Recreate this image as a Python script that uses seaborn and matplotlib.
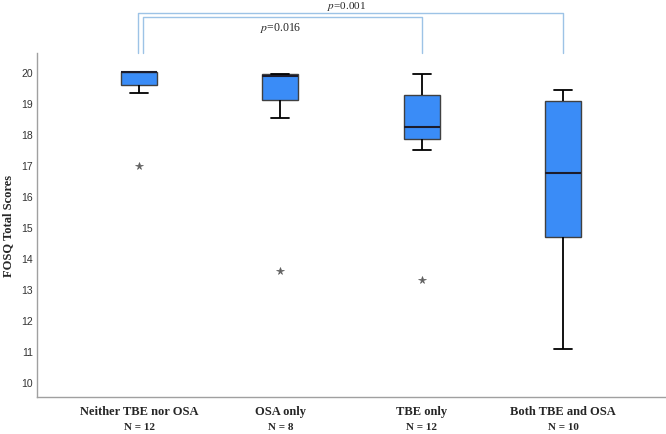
import pandas as pd
import numpy as np
import matplotlib
matplotlib.use("Agg")
import matplotlib.pyplot as plt
import matplotlib.transforms as mtransforms
import seaborn as sns

# --- data ---
groups = ["Neither TBE nor OSA", "OSA only", "TBE only", "Both TBE and OSA"]
n_labels = ["N = 12", "N = 8", "N = 12", "N = 10"]

neither = [16.95, 19.3, 19.5, 19.6, 19.8, 20, 20, 20, 20, 20, 20, 20]
osa_only = [13.55, 18.5, 19.27, 19.8, 19.93, 19.93, 19.93, 19.93]
tbe_only = [13.27, 17.46, 17.6, 17.9, 18.0, 18.1, 18.3, 18.9, 19.1, 19.66, 19.8, 19.92]
both = [11.04, 13.2, 14.4, 15.44, 16.3, 17.14, 18.8, 19.12, 19.3, 19.42]

p_labels = ["$p$=0.016", "$p$=0.001"]

df = pd.DataFrame({
    "group": [groups[0]] * len(neither) + [groups[1]] * len(osa_only)
             + [groups[2]] * len(tbe_only) + [groups[3]] * len(both),
    "score": neither + osa_only + tbe_only + both,
})

sns.set_style("white")
plt.rcParams["font.family"] = ["Liberation Serif", "DejaVu Serif"]
plt.rcParams["mathtext.fontset"] = "stix"

fig = plt.figure(figsize=(6.66, 4.35), dpi=100)
ax = fig.add_axes([37 / 666, 1 - 398 / 435, 628 / 666, 344 / 435])

sns.boxplot(
    data=df, x="group", y="score", order=groups, ax=ax,
    color="#3a8cf7", saturation=1, width=0.255, linecolor="#2a2a2a",
    linewidth=1,
    boxprops=dict(edgecolor="#404040"),
    medianprops=dict(color="#1c1c2c", linewidth=1.5),
    whiskerprops=dict(color="black", linewidth=1.3),
    capprops=dict(color="black", linewidth=1.3),
    flierprops=dict(marker="*", markersize=5.5, markerfacecolor="#606060",
                    markeredgecolor="#606060", markeredgewidth=0.5),
)

ax.set_xlim(-0.722, 3.72)
ax.set_ylim(9.5, 20.6)
ax.set_yticks(range(10, 21))
ax.tick_params(axis="y", length=0, pad=3, labelsize=7.5, labelcolor="#333333")
ax.tick_params(axis="x", length=0, pad=6)
for lbl in ax.get_yticklabels():
    lbl.set_fontfamily(["Liberation Sans", "DejaVu Sans"])
ax.set_xticks(range(len(groups)))
ax.set_xticklabels(groups, fontsize=9, fontweight="bold")
ax.set_xlabel("")
ax.set_ylabel("FOSQ Total Scores", fontsize=9, fontweight="bold")
ax.yaxis.label.set_va("center")
ax.yaxis.set_label_coords(-0.046, 0.5)

for side in ["top", "right"]:
    ax.spines[side].set_visible(False)
for side in ["left", "bottom"]:
    ax.spines[side].set_color("#a0a0a0")
    ax.spines[side].set_linewidth(1)

trans = mtransforms.blended_transform_factory(ax.transData, ax.transAxes)
for i, lab in enumerate(n_labels):
    ax.text(i, -0.087, lab, transform=trans, ha="center", va="center",
            fontsize=8, fontweight="bold")

# significance brackets
bcolor = "#9dc3e6"
ax.plot([0.03, 0.03, 2.0, 2.0], [1.0, 1.104, 1.104, 1.0], color=bcolor,
        lw=1, transform=trans, clip_on=False)
ax.plot([-0.007, -0.007, 3.0, 3.0], [1.0, 1.117, 1.117, 1.0], color=bcolor,
        lw=1, transform=trans, clip_on=False)
ax.text(1.0, 1.095, p_labels[0], transform=trans, ha="center", va="top",
        fontsize=8.5)
ax.text(1.47, 1.118, p_labels[1], transform=trans, ha="center", va="bottom",
        fontsize=8)

fig.savefig("out.png", dpi=100)
